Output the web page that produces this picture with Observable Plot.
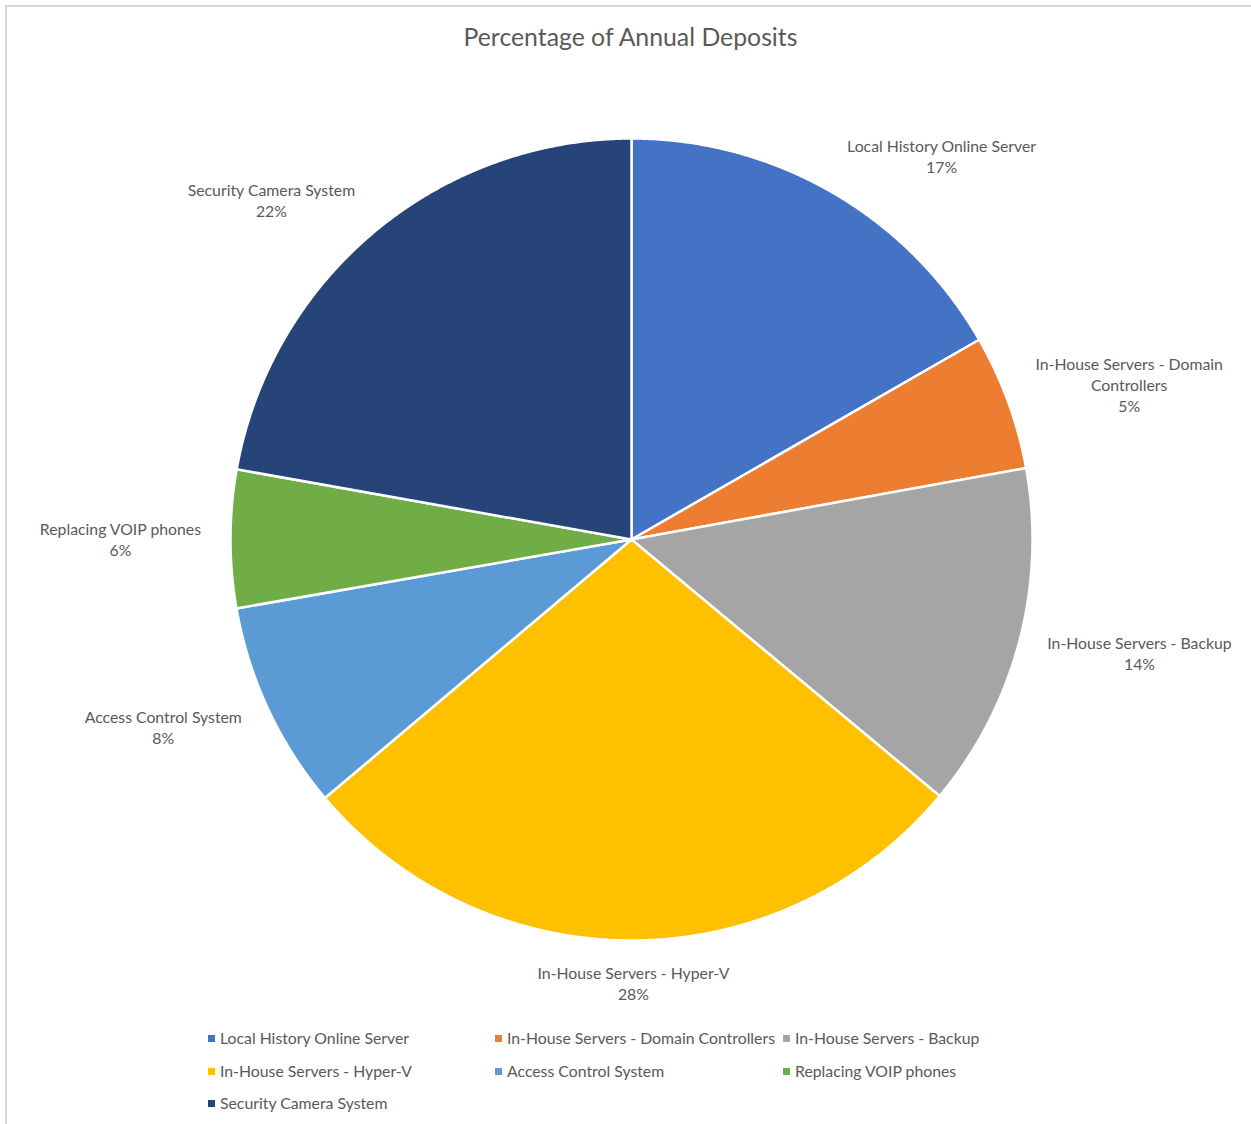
<!DOCTYPE html>
<html>
<head>
<meta charset="utf-8">
<script src="https://cdn.jsdelivr.net/npm/d3@7"></script>
<script src="https://cdn.jsdelivr.net/npm/@observablehq/plot@0.6"></script>
<style>
  html, body { margin: 0; padding: 0; background: #fff; }
  #root { position: relative; width: 1251px; height: 1124px; overflow: hidden; font-family: Lato, sans-serif; color: #595959; }
  #frame { position: absolute; left: 5px; top: 5px; width: 1260px; height: 1130px; border-top: 2px solid #d9d9d9; border-left: 2px solid #d9d9d9; box-sizing: border-box; }
  #title { position: absolute; left: 10px; top: 21px; width: 1241px; text-align: center; font-size: 24.8px; line-height: 32px; }
  #chart { position: absolute; left: 0; top: 60px; }
  .lg { position: absolute; font-size: 15.8px; line-height: 20px; white-space: nowrap; }
  .lg i { position: absolute; left: 0; top: 6.5px; width: 7px; height: 7px; }
  .lg span { position: absolute; left: 12px; top: 0; }
</style>
</head>
<body>
<div id="root">
  <div id="frame"></div>
  <div id="title">Percentage of Annual Deposits</div>
  <div id="chart"></div>
  <div id="legend"></div>
</div>
<script>
const categories = [
  "Local History Online Server",
  "In-House Servers - Domain Controllers",
  "In-House Servers - Backup",
  "In-House Servers - Hyper-V",
  "Access Control System",
  "Replacing VOIP phones",
  "Security Camera System"
];
const shares = [16.7, 5.45, 13.9, 27.8, 8.4, 5.55, 22.2];
const sliceColors = ["#4472C4", "#ED7D31", "#A5A5A5", "#FFC000", "#5B9BD5", "#70AD47", "#264478"];

const W = 1251, H = 950;
const R = 401;              // pie radius in px
const cx = 631, cy = 539 - 60;
const mL = cx - R, mR = W - (cx + R), mT = cy - R, mB = H - (cy + R);

const fontSize = 15.8, linePx = 21, fontFam = "Lato";
const ctx = document.createElement("canvas").getContext("2d");
ctx.font = `${fontSize}px ${fontFam}`;
const tw = s => ctx.measureText(s).width;

function wrap(text, maxW) {
  const words = text.split(" ");
  const lines = [];
  let cur = "";
  for (const w of words) {
    const t = cur ? cur + " " + w : w;
    if (tw(t) > maxW && cur) { lines.push(cur); cur = w; } else cur = t;
  }
  if (cur) lines.push(cur);
  return lines;
}

const total = d3.sum(shares);
const arcs = d3.pie().sort(null).value(d => d)(shares);

// slice polygons (data space: unit circle, y up, angle 0 at top, clockwise)
const verts = [];
arcs.forEach((p, i) => {
  verts.push({i, x: 0, y: 0});
  const n = Math.max(2, Math.ceil((p.endAngle - p.startAngle) / 0.004));
  for (let k = 0; k <= n; k++) {
    const a = p.startAngle + (p.endAngle - p.startAngle) * k / n;
    verts.push({i, x: Math.sin(a), y: Math.cos(a)});
  }
  verts.push({i, x: 0, y: 0});
});

// data labels placed just outside the slice, along its mid-angle
const gapX = 29, gapY = 21;
const labels = arcs.map((p, i) => {
  const a = (p.startAngle + p.endAngle) / 2;
  const ux = Math.sin(a), uy = Math.cos(a);
  const lines = wrap(categories[i], 205);
  lines.push(Math.round(shares[i] / total * 100) + "%");
  const w = d3.max(lines, tw), h = lines.length * linePx;
  const ax = (R + gapX) * ux, ay = (R + gapY) * uy;
  const px = ax + (w / 2) * Math.max(-1, Math.min(1, 2 * ux));
  const py = ay + (h / 2) * uy;
  return {x: px / R, y: py / R, text: lines.join("\n")};
});

const svg = Plot.plot({
  width: W, height: H,
  marginLeft: mL, marginRight: mR, marginTop: mT, marginBottom: mB,
  x: {domain: [-1, 1], axis: null},
  y: {domain: [-1, 1], axis: null},
  color: {domain: categories, range: sliceColors},
  style: {background: "transparent", overflow: "visible"},
  marks: [
    Plot.line(verts, {x: "x", y: "y", z: "i", fill: d => categories[d.i], stroke: "white", strokeWidth: 2.5, strokeLinejoin: "round"}),
    Plot.text(labels, {x: "x", y: "y", text: "text", textAnchor: "middle", lineAnchor: "middle",
      lineHeight: linePx / fontSize, fontSize: fontSize, fontFamily: fontFam, fill: "#595959"})
  ]
});
document.getElementById("chart").appendChild(svg);

// legend
const colX = [208, 495, 783], rowY = [1038, 1071, 1103];
const lg = document.getElementById("legend");
categories.forEach((c, i) => {
  const d = document.createElement("div");
  d.className = "lg";
  d.style.left = colX[i % 3] + "px";
  d.style.top = (rowY[Math.floor(i / 3)] - 10) + "px";
  d.innerHTML = `<i style="background:${sliceColors[i]}"></i><span></span>`;
  d.querySelector("span").textContent = c;
  lg.appendChild(d);
});
</script>
</body>
</html>
